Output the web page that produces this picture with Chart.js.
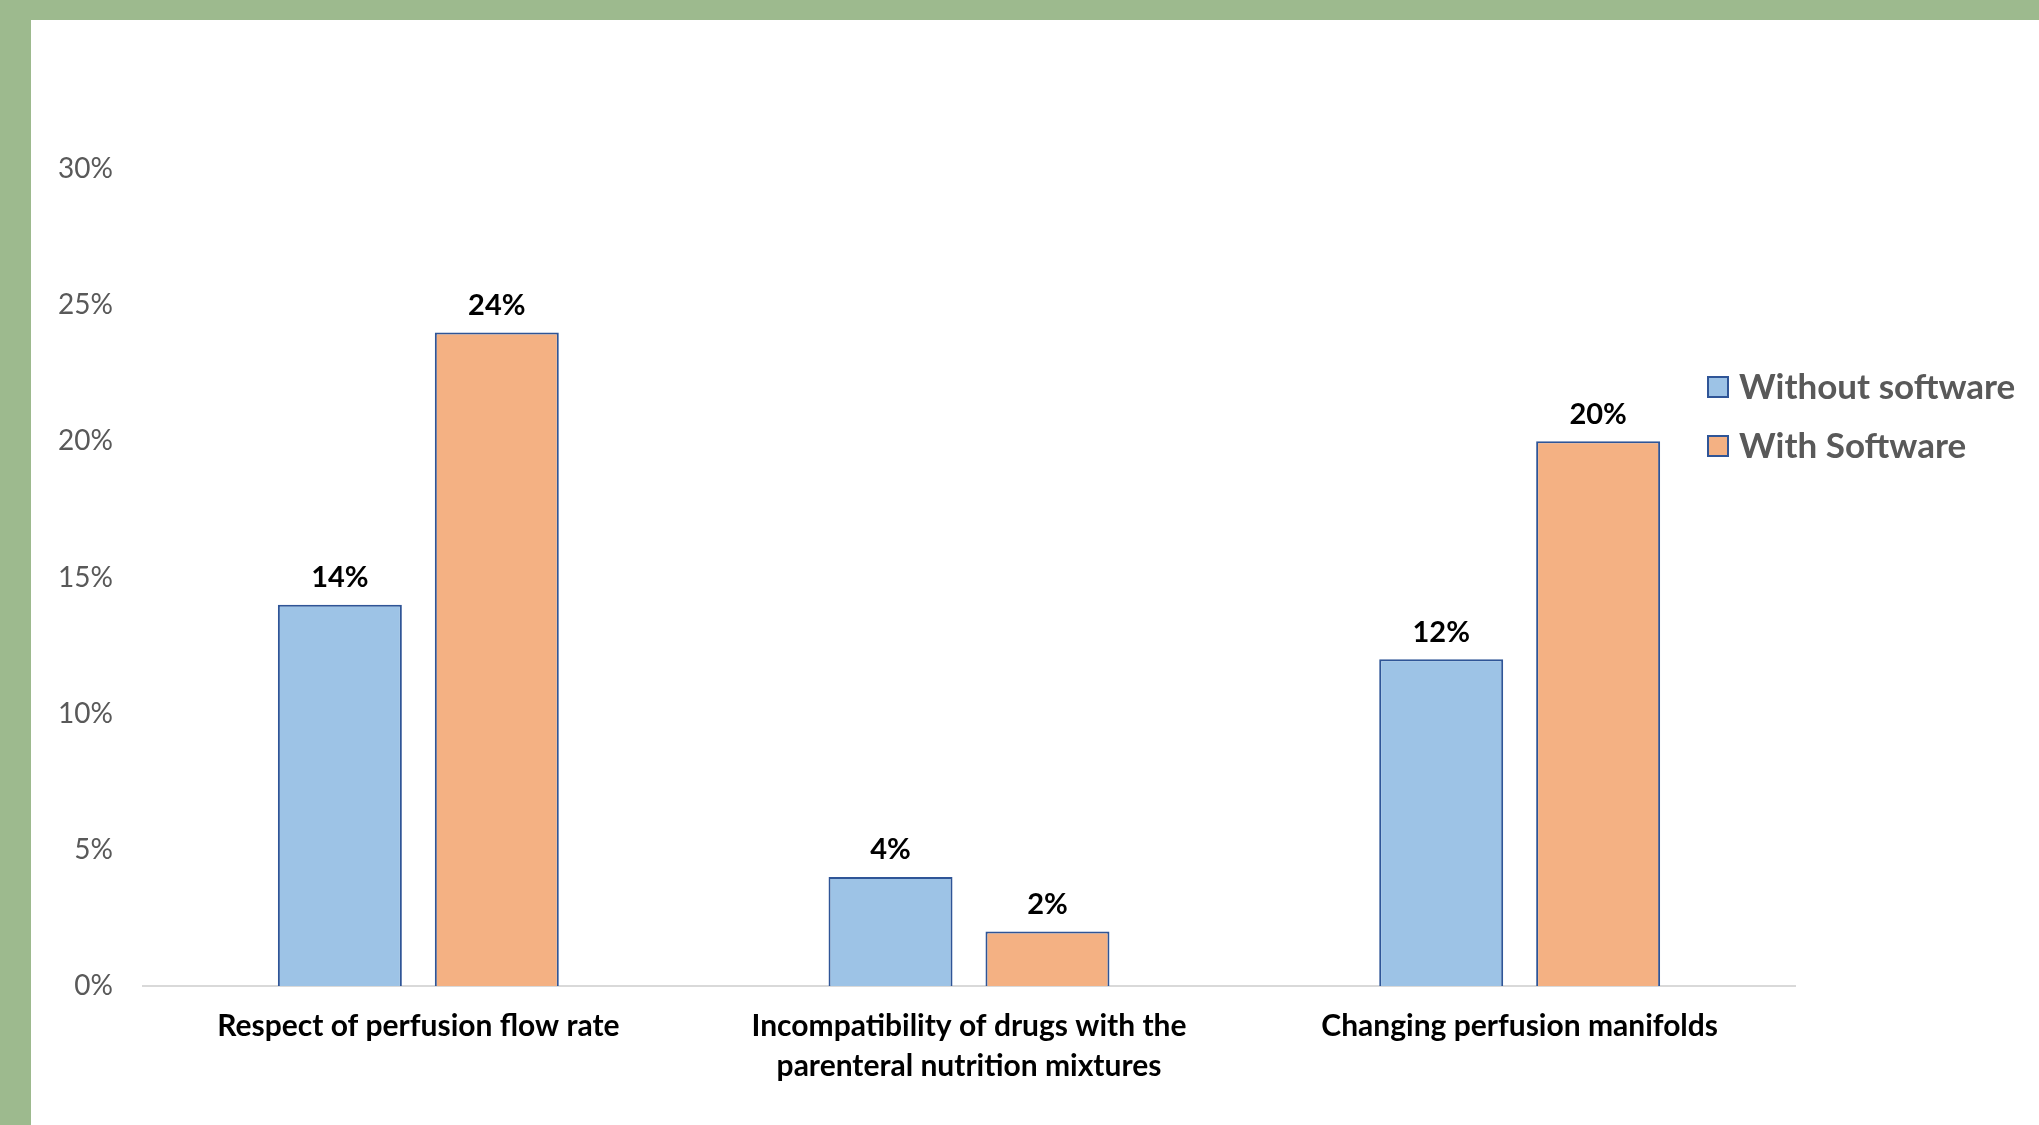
<!DOCTYPE html>
<html>
<head>
<meta charset="utf-8">
<script src="https://cdn.jsdelivr.net/npm/chart.js@4.4.1/dist/chart.umd.min.js"></script>
<style>
  html, body { margin: 0; padding: 0; background: #9dba8e; }
  body { width: 2039px; height: 1125px; overflow: hidden; position: relative; }
  #wrap { position: absolute; left: 31px; top: 20px; width: 2008px; height: 1105px; background: #ffffff; }
  canvas { display: block; }
</style>
</head>
<body>
<div id="wrap"><canvas id="c" width="2008" height="1105"></canvas></div>
<script>
const categories = [
  ['Respect of perfusion flow rate'],
  ['Incompatibility of drugs with the', 'parenteral nutrition mixtures'],
  ['Changing perfusion manifolds']
];
const seriesNames = ['Without software', 'With Software'];
const withoutSoftware = [14, 4, 12];
const withSoftware = [24, 2, 20];
const yTicks = [0, 5, 10, 15, 20, 25, 30];

const FONT = 'Lato, "Open Sans", sans-serif';

const valueLabels = {
  id: 'valueLabels',
  afterDatasetsDraw(chart) {
    const ctx = chart.ctx;
    ctx.save();
    ctx.font = 'bold 29px ' + FONT;
    ctx.fillStyle = '#000000';
    ctx.textAlign = 'center';
    ctx.textBaseline = 'middle';
    chart.data.datasets.forEach((ds, di) => {
      const meta = chart.getDatasetMeta(di);
      meta.data.forEach((bar, i) => {
        ctx.fillText(ds.data[i] + '%', bar.x, bar.y - 27);
      });
    });
    ctx.restore();
  }
};

const customLegend = {
  id: 'customLegend',
  afterDraw(chart) {
    const ctx = chart.ctx;
    const x0 = 1677, y0 = 367, rowGap = 59, box = 20;
    ctx.save();
    ctx.font = 'bold 35px ' + FONT;
    ctx.textAlign = 'left';
    ctx.textBaseline = 'middle';
    chart.data.datasets.forEach((ds, i) => {
      const cy = y0 + i * rowGap;
      ctx.fillStyle = ds.backgroundColor;
      ctx.fillRect(x0, cy - box / 2, box, box);
      ctx.strokeStyle = ds.borderColor;
      ctx.lineWidth = 2;
      ctx.strokeRect(x0, cy - box / 2, box, box);
      ctx.fillStyle = '#595959';
      ctx.fillText(ds.label, x0 + 31, cy + 1);
    });
    ctx.restore();
  }
};

new Chart(document.getElementById('c'), {
  type: 'bar',
  data: {
    labels: categories,
    datasets: [
      { label: seriesNames[0], data: withoutSoftware, backgroundColor: '#9dc3e6', borderColor: '#2f5597', borderWidth: 2 },
      { label: seriesNames[1], data: withSoftware, backgroundColor: '#f4b183', borderColor: '#2f5597', borderWidth: 2 }
    ]
  },
  options: {
    responsive: false,
    animation: false,
    events: [],
    layout: { padding: { left: 0, top: 149, right: 244, bottom: 0 } },
    datasets: { bar: { categoryPercentage: 0.57, barPercentage: 0.79 } },
    plugins: { legend: { display: false }, tooltip: { enabled: false } },
    scales: {
      x: {
        grid: { display: false, drawTicks: false },
        border: { display: true, color: '#d9d9d9', width: 2 },
        ticks: {
          color: '#000000',
          font: { family: FONT, size: 30, weight: 'bold', lineHeight: 1.333 },
          padding: 20,
          maxRotation: 0,
          autoSkip: false
        },
        afterFit(scale) { scale.height = 139; }
      },
      y: {
        min: 0,
        max: 30,
        grid: { display: false, drawTicks: false },
        border: { display: false },
        afterBuildTicks(scale) { scale.ticks = yTicks.map(v => ({ value: v })); },
        ticks: {
          color: '#595959',
          font: { family: FONT, size: 28 },
          padding: 30,
          callback: v => v + '%'
        },
        afterFit(scale) { scale.width = 112; }
      }
    }
  },
  plugins: [valueLabels, customLegend]
});
</script>
</body>
</html>
